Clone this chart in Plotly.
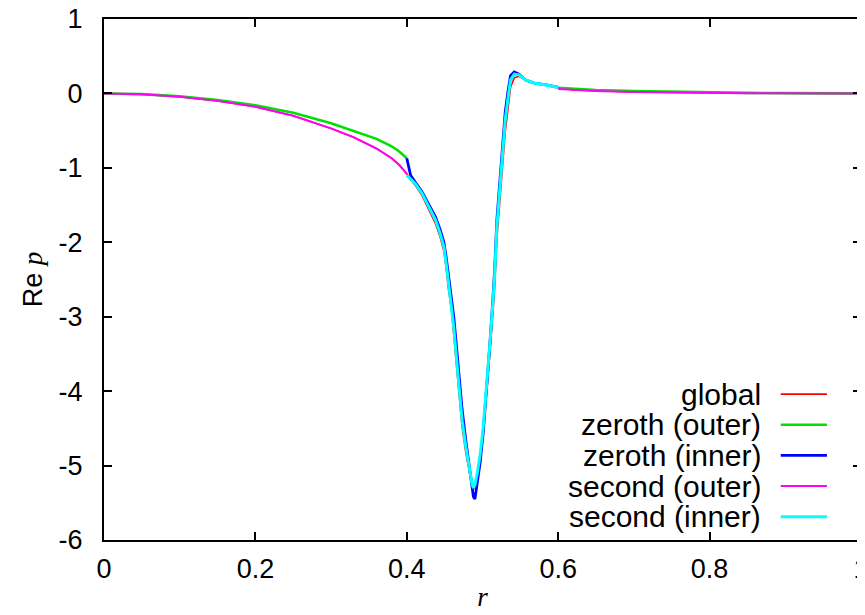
import plotly.graph_objects as go

# ---------------- data ----------------
# outer region, left part (r <= 0.4)
r_outer_left = [0.0, 0.05, 0.10, 0.15, 0.20, 0.25, 0.30, 0.33, 0.36, 0.38, 0.39, 0.40]
zeroth_outer_left = [0.0, -0.01, -0.04, -0.09, -0.16, -0.26, -0.40, -0.50, -0.61, -0.71, -0.78, -0.87]
second_outer_left = [0.0, -0.012, -0.045, -0.10, -0.18, -0.30, -0.47, -0.59, -0.74, -0.87, -0.96, -1.08]

# outer region, right part (r >= 0.6)
r_outer_right = [0.60, 0.62, 0.65, 0.70, 0.75, 0.80, 0.85, 0.90, 0.95, 1.00]
zeroth_outer_right = [0.075, 0.062, 0.047, 0.032, 0.022, 0.014, 0.008, 0.004, 0.002, 0.001]
second_outer_right = [0.058, 0.048, 0.034, 0.020, 0.012, 0.007, 0.004, 0.002, 0.001, 0.0]

# inner region (0.4 <= r <= 0.6)
r_inner = [0.400, 0.405, 0.411, 0.420, 0.429, 0.438, 0.444, 0.449, 0.452, 0.455,
           0.459, 0.462, 0.465, 0.469, 0.473, 0.478, 0.482, 0.486, 0.488, 0.490,
           0.493, 0.497, 0.501, 0.504, 0.507, 0.510, 0.513, 0.516, 0.519, 0.523,
           0.526, 0.530, 0.534, 0.537, 0.542, 0.548, 0.557, 0.568, 0.586, 0.600]
second_inner = [-1.10, -1.15, -1.21, -1.34, -1.52, -1.70, -1.88, -2.06, -2.28, -2.55,
                -2.82, -3.14, -3.49, -3.94, -4.39, -4.75, -5.02, -5.24, -5.30, -5.26,
                -5.11, -4.84, -4.48, -4.12, -3.72, -3.33, -2.92, -2.46, -1.79, -1.25,
                -0.81, -0.36, -0.04, 0.18, 0.26, 0.25, 0.18, 0.14, 0.11, 0.08]
zeroth_inner = [-0.87, -1.10, -1.19, -1.32, -1.49, -1.66, -1.83, -2.00, -2.20, -2.45,
                -2.70, -3.00, -3.33, -3.78, -4.24, -4.67, -4.98, -5.30, -5.42, -5.45,
                -5.25, -4.95, -4.55, -4.18, -3.75, -3.33, -2.88, -2.38, -1.70, -1.14,
                -0.68, -0.25, 0.05, 0.24, 0.29, 0.26, 0.18, 0.14, 0.11, 0.08]
global_inner = [-1.08, -1.16, -1.23, -1.37, -1.56, -1.75, -1.93, -2.12, -2.35, -2.63,
                -2.90, -3.24, -3.60, -4.05, -4.48, -4.83, -5.08, -5.27, -5.32, -5.28,
                -5.15, -4.90, -4.56, -4.22, -3.84, -3.46, -3.05, -2.62, -1.95, -1.42,
                -0.98, -0.52, -0.18, 0.08, 0.21, 0.23, 0.18, 0.14, 0.11, 0.08]

series_names = ["global", "zeroth (outer)", "zeroth (inner)", "second (outer)", "second (inner)"]
series_colors = ["#ff0000", "#00e000", "#0000ff", "#ff00ff", "#00ffff"]
series_widths = [1.6, 2.6, 2.8, 2.0, 3.0]

x_tick_vals = [0, 0.2, 0.4, 0.6, 0.8, 1.0]
x_tick_text = ["0", "0.2", "0.4", "0.6", "0.8", "1"]
y_tick_vals = [-6, -5, -4, -3, -2, -1, 0, 1]
y_tick_text = ["-6", "-5", "-4", "-3", "-2", "-1", "0", "1"]

# ---------------- build series ----------------
r_global = r_outer_left[:-1] + r_inner + r_outer_right[1:]
p_global = second_outer_left[:-1] + global_inner + second_outer_right[1:]

r_outer = r_outer_left + [None] + r_outer_right
p_zeroth_outer = zeroth_outer_left + [None] + zeroth_outer_right
p_second_outer = second_outer_left + [None] + second_outer_right

series = [
    (r_global, p_global),
    (r_outer, p_zeroth_outer),
    (r_inner, zeroth_inner),
    (r_outer, p_second_outer),
    (r_inner, second_inner),
]

fig = go.Figure()
for (xs, ys), name, col, w in zip(series, series_names, series_colors, series_widths):
    fig.add_trace(go.Scatter(x=xs, y=ys, mode="lines", name=name,
                             line=dict(color=col, width=w), connectgaps=False))

FONT = "Liberation Sans, Arial, Helvetica, sans-serif"
SERIF = "Liberation Serif, Times New Roman, serif"

axis_common = dict(showgrid=False, zeroline=False, showline=True, linecolor="black",
                   linewidth=2, mirror="ticks", ticks="inside", ticklen=8,
                   tickwidth=1.5, tickcolor="black", automargin=False,
                   ticklabeloverflow="allow",
                   tickfont=dict(family=FONT, size=27, color="black"))

# the page adds an 8 px body margin, so margins are reduced by 8 px on top/left
fig.update_layout(
    template="none",
    width=865, height=615,
    margin=dict(l=96, r=12, t=11, b=83),
    plot_bgcolor="white", paper_bgcolor="white",
    showlegend=False,
    font=dict(family=FONT, size=27, color="black"),
    xaxis=dict(range=[0, 1], tickvals=x_tick_vals, ticktext=x_tick_text,
               ticklabelstandoff=4,
               title=dict(text="<i>r</i>", font=dict(family=SERIF, size=27),
                          standoff=4),
               **axis_common),
    yaxis=dict(range=[-6, 1], tickvals=y_tick_vals, ticktext=y_tick_text,
               ticklabelstandoff=14,
               title=dict(text="Re <span style='font-family:Liberation Serif, Times New Roman, serif'><i>p</i></span>",
                          font=dict(family=FONT, size=27), standoff=8),
               **axis_common),
)

# gnuplot-style key: right-aligned text with line sample to its right
key_text_x = 0.870
key_line_x0, key_line_x1 = 0.894, 0.955
key_top_y, key_step = 0.280, 0.0588
for i, (name, col, w) in enumerate(zip(series_names, series_colors, series_widths)):
    yy = key_top_y - i * key_step
    fig.add_annotation(x=key_text_x, y=yy, xref="paper", yref="paper",
                       text=name, showarrow=False, xanchor="right", yanchor="middle",
                       font=dict(family=FONT, size=30, color="black"))
    fig.add_shape(type="line", xref="paper", yref="paper",
                  x0=key_line_x0, x1=key_line_x1, y0=yy, y1=yy,
                  line=dict(color=col, width=w))

fig.write_html("out.html")
